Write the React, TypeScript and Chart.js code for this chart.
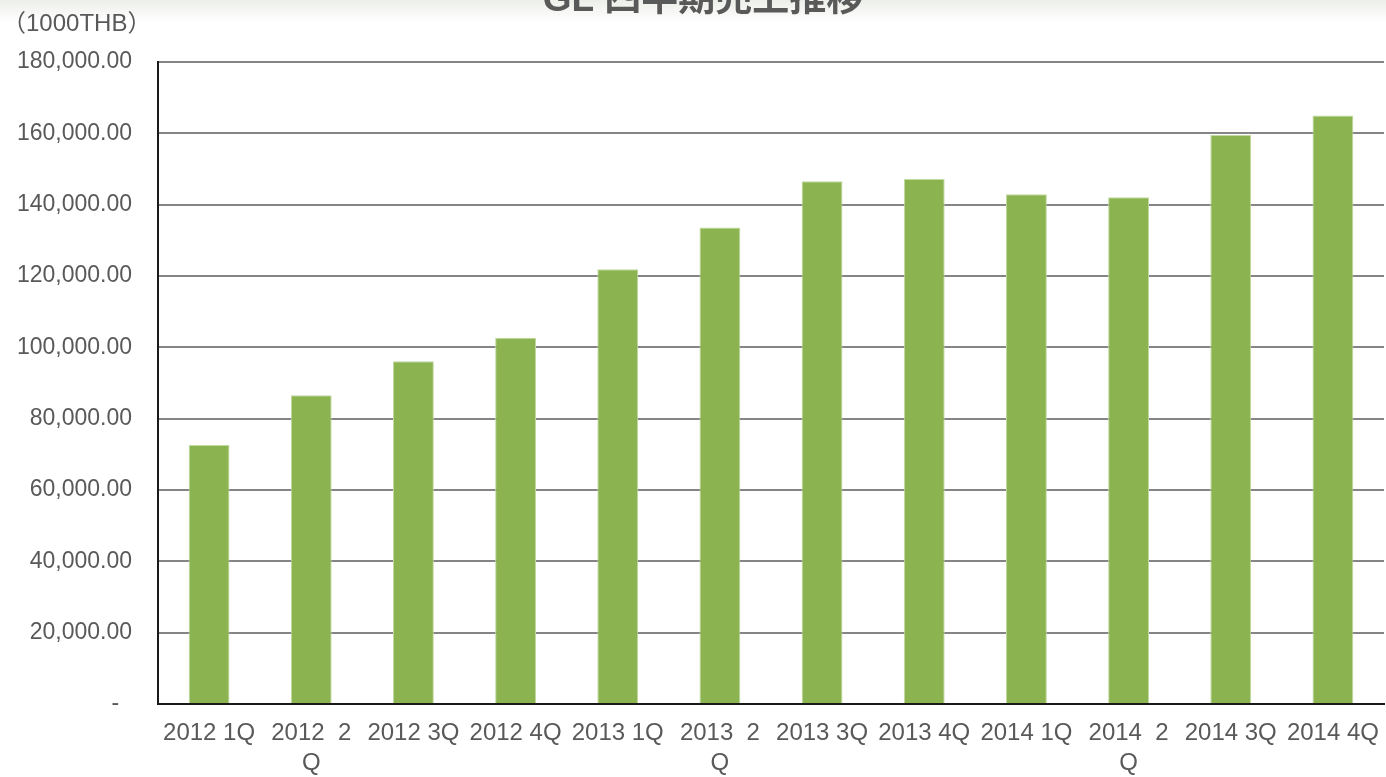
import React, { useEffect, useRef } from "react";
import { Chart, registerables } from "chart.js";

Chart.register(...registerables);

const categories: (string | string[])[] = [
  "2012 1Q",
  ["2012  2", "Q"],
  "2012 3Q",
  "2012 4Q",
  "2013 1Q",
  ["2013  2", "Q"],
  "2013 3Q",
  "2013 4Q",
  "2014 1Q",
  ["2014  2", "Q"],
  "2014 3Q",
  "2014 4Q",
];

const salesValues: number[] = [
  72600, 86600, 96100, 102700, 121900, 133600, 146600, 147200, 142900, 142100, 159500, 165000,
];

const yTickValues: number[] = [0, 20000, 40000, 60000, 80000, 100000, 120000, 140000, 160000, 180000];

const titleText = "GL 四半期売上推移";
const unitText = "（1000THB）";

const FONT = "'Liberation Sans', Arial, 'Noto Sans CJK JP', sans-serif";

export default function App() {
  const ref = useRef<HTMLCanvasElement | null>(null);

  useEffect(() => {
    document.body.style.margin = "0";
    const canvas = ref.current;
    if (!canvas) return;

    const decor = {
      id: "decor",
      beforeDraw(chart: any) {
        const ctx = chart.ctx;
        ctx.save();
        ctx.fillStyle = "#ffffff";
        ctx.fillRect(0, 0, chart.width, chart.height);
        const g = ctx.createLinearGradient(0, 0, 0, 22);
        g.addColorStop(0, "rgba(236,239,233,1)");
        g.addColorStop(1, "rgba(255,255,255,1)");
        ctx.fillStyle = g;
        ctx.fillRect(0, 0, chart.width, 22);
        ctx.restore();
      },
      afterDraw(chart: any) {
        const ctx = chart.ctx;
        ctx.save();
        ctx.fillStyle = "#595959";
        ctx.font = "bold 37px 'Liberation Sans', 'Noto Sans CJK JP', sans-serif";
        ctx.textAlign = "center";
        ctx.textBaseline = "alphabetic";
        ctx.fillText(titleText, 703, 11);
        ctx.font = "24px 'Liberation Sans', 'Noto Sans CJK JP', sans-serif";
        ctx.textAlign = "left";
        ctx.textBaseline = "middle";
        ctx.fillText(unitText, 2, 24);
        ctx.restore();
      },
    };

    const chart = new Chart(canvas, {
      type: "bar",
      data: {
        labels: categories,
        datasets: [
          {
            data: salesValues,
            backgroundColor: "#8BB34F",
            borderColor: "#c2d9a2",
            borderWidth: 1,
            barPercentage: 0.4,
            categoryPercentage: 1.0,
          },
        ],
      },
      options: {
        responsive: false,
        animation: false,
        layout: { padding: { left: 0, right: 2, top: 62, bottom: 0 } },
        plugins: {
          legend: { display: false },
          tooltip: { enabled: false },
          title: { display: false },
        },
        scales: {
          x: {
            offset: true,
            grid: { display: false, drawTicks: false },
            border: { display: true, color: "#1a1a1a", width: 2 },
            ticks: {
              color: "#595959",
              font: { family: FONT, size: 24, lineHeight: 1.25 },
              padding: 14,
              maxRotation: 0,
              minRotation: 0,
              autoSkip: false,
            },
            afterFit: (s: any) => {
              s.height = 73;
              s.paddingLeft = 0;
              s.paddingRight = 0;
            },
          },
          y: {
            min: 0,
            max: 180000,
            afterBuildTicks: (s: any) => {
              s.ticks = yTickValues.map((v) => ({ value: v }));
            },
            grid: { color: "#858585", lineWidth: 2, drawTicks: false },
            border: { display: true, color: "#1a1a1a", width: 2 },
            ticks: {
              color: "#595959",
              font: { family: FONT, size: 23 },
              padding: 26,
              callback: (v: any) =>
                Number(v) === 0
                  ? "-  "
                  : Number(v).toLocaleString("en-US", {
                      minimumFractionDigits: 2,
                      maximumFractionDigits: 2,
                    }),
            },
            afterFit: (s: any) => {
              s.width = 158;
              s.paddingTop = 0;
              s.paddingBottom = 0;
            },
          },
        },
      },
      plugins: [decor],
    });

    return () => chart.destroy();
  }, []);

  return (
    <div style={{ width: 1386, height: 777 }}>
      <canvas ref={ref} width={1386} height={777} style={{ display: "block" }} />
    </div>
  );
}
